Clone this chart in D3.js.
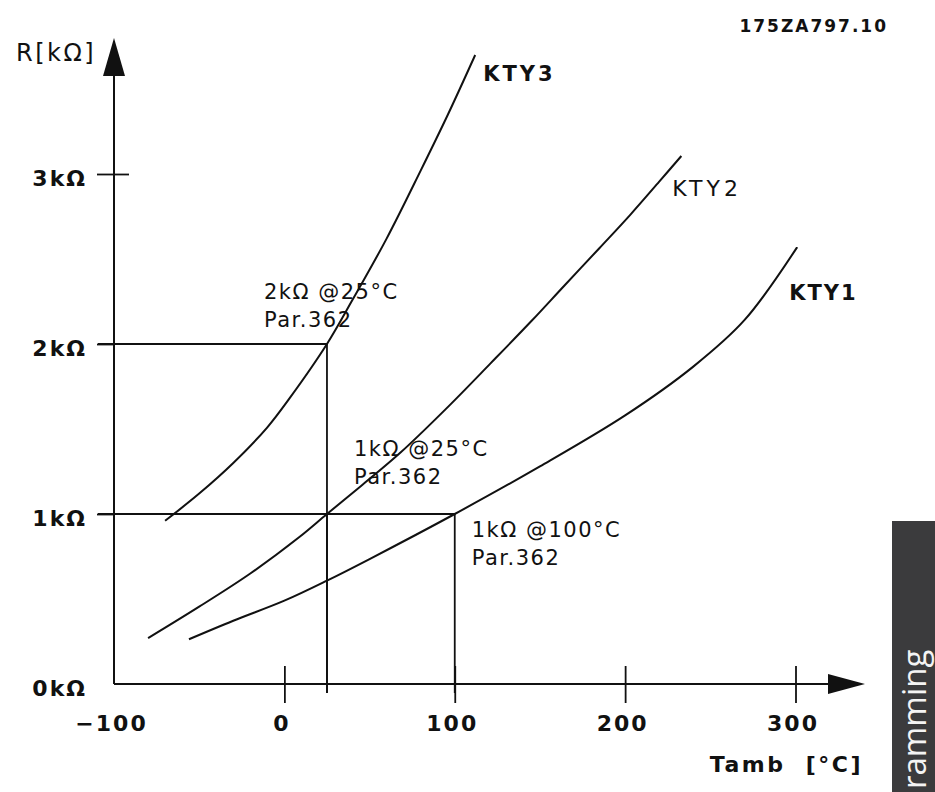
<!DOCTYPE html>
<html>
<head>
<meta charset="utf-8">
<script src="https://cdn.jsdelivr.net/npm/d3@7"></script>
<style>
  html, body { margin: 0; padding: 0; background: #fff; }
  svg { display: block; }
  text { font-family: "DejaVu Sans", sans-serif; fill: #111; }
</style>
</head>
<body>
<svg id="chart" width="935" height="792"></svg>
<script>
// ---- data ----
const tempTicks = [-100, 0, 100, 200, 300];
const tempTickLabels = ["\u2212100", "0", "100", "200", "300"];
const resTicks = [0, 1, 2, 3];
const resTickLabels = ["0k\u03A9", "1k\u03A9", "2k\u03A9", "3k\u03A9"];

const kty1T = [-56, -30, 0, 25, 50, 100, 150, 200, 240, 270, 301];
const kty1R = [0.263, 0.372, 0.49, 0.608, 0.735, 1.0, 1.28, 1.58, 1.867, 2.14, 2.57];

const kty2T = [-80, -50, -20, 9, 25, 45, 68, 95, 121, 145, 164, 185, 203, 220, 233];
const kty2R = [0.27, 0.455, 0.65, 0.866, 1.0, 1.165, 1.36, 1.62, 1.886, 2.135, 2.34, 2.565, 2.76, 2.955, 3.106];

const kty3T = [-70, -50, -30, -10, 3, 25, 40, 60, 80, 96, 112];
const kty3R = [0.96, 1.12, 1.30, 1.51, 1.68, 2.0, 2.26, 2.62, 3.02, 3.35, 3.70];

const seriesNames = ["KTY1", "KTY2", "KTY3"];
// guide points: [temperature, resistance]
const guidePoints = [[25, 2], [25, 1], [100, 1]];
const guideLabels = [
  ["2k\u03A9 @25\u00B0C", "Par.362"],
  ["1k\u03A9 @25\u00B0C", "Par.362"],
  ["1k\u03A9 @100\u00B0C", "Par.362"]
];
const xTitle = "Tamb  [\u00B0C]";
const yTitle = "R[k\u03A9]";
const docId = "175ZA797.10";
const tabText = "ramming";

// ---- scales ----
const x = d3.scaleLinear().domain([-100, 300]).range([114, 795.5]);
const y = d3.scaleLinear().domain([0, 3]).range([684, 174]);

const svg = d3.select("#chart");

// ---- guide lines ----
const g = svg.append("g").attr("stroke", "#111").attr("stroke-width", 1.8).attr("fill", "none");
guidePoints.forEach(([t, r]) => {
  g.append("line").attr("x1", x(-100) - 16).attr("x2", x(t)).attr("y1", y(r)).attr("y2", y(r));
  g.append("line").attr("x1", x(t)).attr("x2", x(t)).attr("y1", y(r)).attr("y2", y(0) + 9);
});

// ---- axes ----
const xAxis = d3.axisBottom(x).tickValues(tempTicks).tickSize(19)
  .tickFormat((d, i) => tempTickLabels[i]);
const xg = svg.append("g").attr("transform", `translate(0,${y(0)})`).call(xAxis);
xg.select(".domain").remove();
xg.selectAll(".tick line").attr("y1", -18).attr("stroke", "#111").attr("stroke-width", 1.8)
  .attr("display", d => d === -100 ? "none" : null);
xg.selectAll(".tick text").attr("y", 47).attr("dy", null).attr("x", -3)
  .style("font-size", "22px").style("font-weight", "bold").style("letter-spacing", "2px")
  .style("font-family", "'DejaVu Sans', sans-serif").attr("fill", "#111");

const yAxis = d3.axisLeft(y).tickValues(resTicks).tickSize(17)
  .tickFormat((d, i) => resTickLabels[i]);
const yg = svg.append("g").attr("transform", `translate(${x(-100)},0)`).call(yAxis);
yg.select(".domain").remove();
yg.selectAll(".tick line").attr("x2", d => d === 0 ? 0 : -17).attr("x1", d => d === 3 ? 15 : 0)
  .attr("stroke", "#111").attr("stroke-width", 1.8);
yg.selectAll(".tick text").attr("x", -27).attr("dy", null).attr("y", 11)
  .style("font-size", "22px").style("font-weight", "bold").style("letter-spacing", "2px")
  .style("font-family", "'DejaVu Sans', sans-serif").attr("fill", "#111");

// axis lines with arrows
const ax = svg.append("g").attr("stroke", "#111").attr("stroke-width", 2);
ax.append("line").attr("x1", x(-100)).attr("x2", 830).attr("y1", y(0)).attr("y2", y(0));
ax.append("line").attr("x1", x(-100)).attr("x2", x(-100)).attr("y1", y(0)).attr("y2", 74);
svg.append("path").attr("fill", "#111")
  .attr("d", `M865,${y(0)} L828,${y(0) - 10} L828,${y(0) + 10} Z`);
svg.append("path").attr("fill", "#111")
  .attr("d", `M${x(-100)},38 L${x(-100) - 11},76 L${x(-100) + 11},76 Z`);

// ---- curves ----
const line = d3.line().x(d => x(d[0])).y(d => y(d[1])).curve(d3.curveCatmullRom.alpha(0.5));
const series = [
  d3.zip(kty1T, kty1R),
  d3.zip(kty2T, kty2R),
  d3.zip(kty3T, kty3R)
];
svg.append("g").selectAll("path").data(series).join("path")
  .attr("d", line).attr("fill", "none").attr("stroke", "#111").attr("stroke-width", 2);

// series labels near the ends
const labelCfg = [
  { dx: -8, dy: 53, weight: "bold", ls: "2px", size: "21px" },   // KTY1
  { dx: -9, dy: 40, weight: "normal", ls: "4px", size: "22px" },  // KTY2
  { dx: 8, dy: 26, weight: "bold", ls: "3px", size: "21px" }      // KTY3
];
series.forEach((s, i) => {
  const last = s[s.length - 1];
  svg.append("text")
    .attr("x", x(last[0]) + labelCfg[i].dx)
    .attr("y", y(last[1]) + labelCfg[i].dy)
    .style("font-size", labelCfg[i].size)
    .style("font-weight", labelCfg[i].weight)
    .style("letter-spacing", labelCfg[i].ls)
    .text(seriesNames[i]);
});

// guide annotations
const annOff = [[-63, -45], [27, -58], [17, 23]];
guidePoints.forEach(([t, r], i) => {
  const tx = x(t) + annOff[i][0];
  const ty = y(r) + annOff[i][1];
  svg.append("text").attr("x", tx).attr("y", ty)
    .style("font-size", "21px").style("letter-spacing", "1.5px")
    .text(guideLabels[i][0]);
  svg.append("text").attr("x", tx).attr("y", ty + 28)
    .style("font-size", "21px").style("letter-spacing", "1.5px")
    .text(guideLabels[i][1]);
});

// axis titles
svg.append("text").attr("x", 863).attr("y", 772).attr("text-anchor", "end")
  .style("font-size", "22px").style("font-weight", "bold").style("letter-spacing", "2.5px")
  .style("white-space", "pre").attr("xml:space", "preserve")
  .text(xTitle);
svg.append("text").attr("x", 16).attr("y", 61)
  .style("font-size", "24px").style("letter-spacing", "2.5px")
  .text(yTitle);

// document id
svg.append("text").attr("x", 888).attr("y", 32).attr("text-anchor", "end")
  .style("font-size", "17px").style("font-weight", "bold").style("letter-spacing", "2px")
  .text(docId);

// right-side tab
svg.append("rect").attr("x", 892).attr("y", 521).attr("width", 43).attr("height", 271)
  .attr("fill", "#3b3b3d");
svg.append("text").attr("transform", "translate(926,789) rotate(-90)")
  .style("font-family", "'Open Sans', sans-serif").style("font-size", "33px")
  .style("fill", "#f4f4f4")
  .text(tabText);
</script>
</body>
</html>
